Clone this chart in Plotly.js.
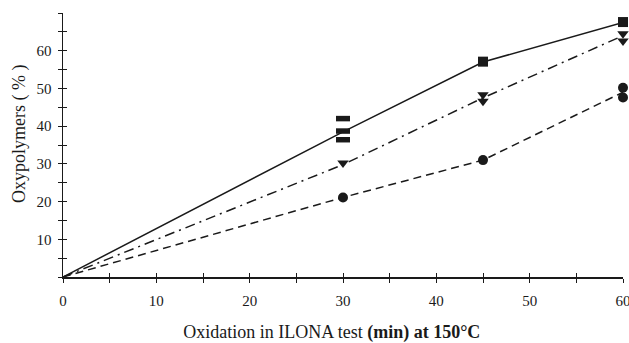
<!DOCTYPE html>
<html><head><meta charset="utf-8">
<script src="https://cdn.plot.ly/plotly-3.0.1.min.js"></script>
<style>html,body{margin:0;padding:0;background:#fff}#c{width:629px;height:343px}</style>
</head><body><div id="c"></div>
<script>
// Oxidation time (min)
const time = [0, 30, 45, 60];
// Mean curves
const squareLine = [0, 38.5, 57, 67.5];
const triangleLine = [0, 29.8, 47.5, 64];
const circleLine = [0, 21.1, 31, 49];
// Individual replicate points
const squareX = [30, 30, 30, 45, 60];
const squareY = [42, 38.7, 36.4, 57.1, 67.6];
const triangleX = [30, 45, 45, 60, 60];
const triangleY = [30.2, 48.3, 46.6, 64.5, 62.6];
const circleX = [30, 45, 60, 60];
const circleY = [21.1, 31, 50.2, 47.6];
// Ticks
const xTickVals = [0, 10, 20, 30, 40, 50, 60];
const xTickText = ['0', '10', '20', '30', '40', '50', '60'];
const yTickVals = [10, 20, 30, 40, 50, 60];
const yTickText = ['10', '20', '30', '40', '50', '60'];

const ink = '#1a1a1a';
const font = 'Liberation Serif, Times New Roman, serif';

const traces = [
  {x: time, y: squareLine, mode: 'lines', line: {color: ink, width: 1.5}, cliponaxis: false},
  {x: time, y: triangleLine, mode: 'lines', line: {color: ink, width: 1.5, dash: '10px,5px,2px,5px'}, cliponaxis: false},
  {x: time, y: circleLine, mode: 'lines', line: {color: ink, width: 1.5, dash: '8px,5px'}, cliponaxis: false},
  {x: squareX.slice(0, 3), y: squareY.slice(0, 3), mode: 'markers', cliponaxis: false,
   marker: {symbol: 'line-ew', size: 10, line: {color: ink, width: 5.5}}},
  {x: squareX.slice(3), y: squareY.slice(3), mode: 'markers', cliponaxis: false,
   marker: {symbol: 'square', size: 10, color: ink}},
  {x: triangleX, y: triangleY, mode: 'markers', cliponaxis: false,
   marker: {symbol: 'triangle-down', size: 10, color: ink}},
  {x: circleX, y: circleY, mode: 'markers', cliponaxis: false,
   marker: {symbol: 'circle', size: 10, color: ink}},
  {x: [], y: [], xaxis: 'x2', yaxis: 'y2', mode: 'markers'}
];

const layout = {
  width: 629, height: 343,
  margin: {l: 63, r: 6, t: 13, b: 66},
  paper_bgcolor: '#fff', plot_bgcolor: '#fff',
  showlegend: false,
  font: {family: font, color: ink, size: 15},
  xaxis: {
    range: [0, 60], showgrid: false, zeroline: false,
    showline: true, linecolor: ink, linewidth: 1.5,
    tickvals: xTickVals, ticktext: xTickText,
    ticks: 'outside', ticklen: 4, tickwidth: 1, tickcolor: ink,
    minor: {dtick: 5, tick0: 0, ticks: 'outside', ticklen: 4, tickwidth: 1, tickcolor: ink},
    tickfont: {family: font, size: 15, color: ink},
    ticklabelstandoff: 5, ticklabeloverflow: 'allow',
    title: {text: 'Oxidation in ILONA test <b>(min) at 150°C</b>&nbsp;&nbsp;&nbsp;&nbsp;&nbsp;', font: {family: font, size: 18, color: ink}, standoff: 30}
  },
  yaxis: {
    range: [0, 70], showgrid: false, zeroline: false,
    showline: true, linecolor: ink, linewidth: 1.5,
    tickvals: yTickVals, ticktext: yTickText,
    ticks: 'outside', ticklen: 4, tickwidth: 1, tickcolor: ink,
    minor: {dtick: 5, tick0: 0, ticks: 'outside', ticklen: 4, tickwidth: 1, tickcolor: ink},
    tickfont: {family: font, size: 15, color: ink},
    ticklabelstandoff: 3, ticklabeloverflow: 'allow',
    title: {text: '&nbsp;&nbsp;&nbsp;&nbsp;&nbsp;Oxypolymers ( % )', font: {family: font, size: 18, color: ink}, standoff: 6}
  },
  xaxis2: {
    overlaying: 'x', anchor: 'y', range: [0, 60], showgrid: false, zeroline: false,
    showline: false, showticklabels: false,
    tickvals: xTickVals, ticks: 'inside', ticklen: 4, tickwidth: 1, tickcolor: ink,
    minor: {dtick: 5, tick0: 0, ticks: 'inside', ticklen: 4, tickwidth: 1, tickcolor: ink}
  },
  yaxis2: {
    overlaying: 'y', anchor: 'x', range: [0, 70], showgrid: false, zeroline: false,
    showline: false, showticklabels: false,
    tickvals: yTickVals, ticks: 'inside', ticklen: 4, tickwidth: 1, tickcolor: ink,
    minor: {dtick: 5, tick0: 0, ticks: 'inside', ticklen: 4, tickwidth: 1, tickcolor: ink}
  }
};

Plotly.newPlot('c', traces, layout, {staticPlot: true, displayModeBar: false});
</script>
</body></html>
